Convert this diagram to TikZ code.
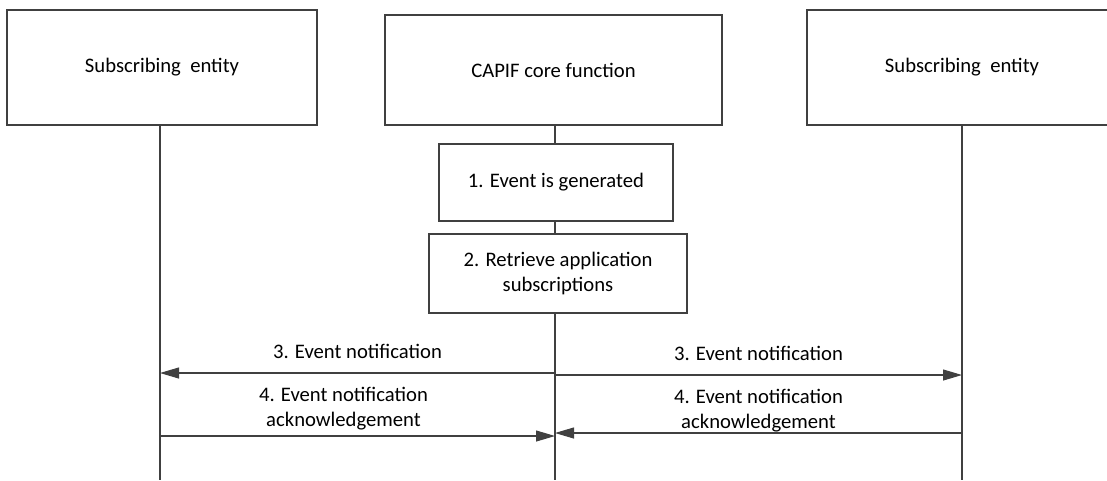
\documentclass[tikz,border=0pt]{standalone}
\usepackage{fontspec}
\setmainfont{Carlito}
\definecolor{line}{gray}{0.25}
\usetikzlibrary{arrows.meta}
\usetikzlibrary{positioning}
\tikzstyle{base}=[x=0.75pt, y=-0.75pt, inner sep=0pt, outer sep=0pt]
\tikzstyle{entity}=[draw=line, line width=0.8pt, minimum width=310*0.75pt, minimum height=115*0.75pt, font=\fontsize{15.5}{19}\selectfont]
\tikzstyle{stepbox}=[draw=line, line width=0.8pt, align=center, font=\fontsize{15.5}{19}\selectfont]
\tikzstyle{life}=[draw=line, line width=0.8pt]
\tikzstyle{msg}=[draw=line, line width=0.8pt, -{Triangle[length=19*0.75pt, width=11*0.75pt]}]
\tikzstyle{msglabel}=[font=\fontsize{15.5}{19}\selectfont, align=center]

\begin{document}
\begin{tikzpicture}[base]
    \path [use as bounding box] (0,0) rectangle (1107,480);
    % entities
    \node [entity] (subl) at (162,67.5) {Subscribing\ \ entity};
    \node [entity, minimum width=337*0.75pt, minimum height=110*0.75pt] (core) at (553.5,70) {CAPIF core function};
    \node [entity] (subr) at (962,67.5) {Subscribing\ \ entity};
    % steps
    \node [stepbox, minimum width=234*0.75pt, minimum height=77*0.75pt] (gen) at (556,182.5) {1. Event is generated};
    \node [stepbox, minimum width=258*0.75pt, minimum height=79*0.75pt] (retr) at (558,273.5) {2. Retrieve application\\subscriptions};
    % lifelines
    \coordinate (lend) at (160,480);
    \coordinate (cend) at (555,480);
    \coordinate (rend) at (962,480);
    \path [life] (subl.south -| lend) -- (lend);
    \path [life] (core.south -| cend) -- (gen.north -| cend);
    \path [life] (gen.south -| cend) -- (retr.north -| cend);
    \path [life] (retr.south -| cend) -- (cend);
    \path [life] (subr.south -| rend) -- (rend);
    % messages
    \coordinate (l3) at (160,373);
    \coordinate (c3) at (555,373);
    \coordinate (r3) at (962,375);
    \coordinate (c3r) at (555,375);
    \coordinate (l4) at (160,436);
    \coordinate (c4) at (555,436);
    \coordinate (r4) at (962,433);
    \coordinate (c4r) at (555,433);
    \path [msg] (c3) -- node [msglabel, above=14*0.75pt] {3. Event notification} (l3);
    \path [msg] (c3r) -- node [msglabel, above=14*0.75pt] {3. Event notification} (r3);
    \path [msg] (l4) -- node [msglabel, above=6*0.75pt, xshift=-14*0.75pt] {4. Event notification\\acknowledgement} (c4);
    \path [msg] (r4) -- node [msglabel, above=1*0.75pt] {4. Event notification\\acknowledgement} (c4r);
\end{tikzpicture}
\end{document}
